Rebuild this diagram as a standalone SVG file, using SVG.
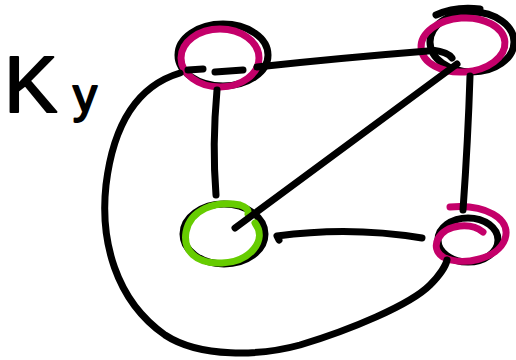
<svg xmlns="http://www.w3.org/2000/svg" width="516" height="360" viewBox="0 0 516 360">
<style>
.k{fill:none;stroke:#000;stroke-width:7;stroke-linecap:round;stroke-linejoin:round}
.m{fill:none;stroke:#c4006a;stroke-width:7;stroke-linecap:round}
.g{fill:none;stroke:#66cc00;stroke-width:7;stroke-linecap:round}
.lbl{font-family:"Liberation Sans",Arial,sans-serif;fill:#000;stroke:#000;stroke-width:2;stroke-linejoin:round}
</style>
<rect width="516" height="360" fill="#fff"/>
<text class="lbl" x="4" y="112" font-size="80">K<tspan x="73" font-size="48">y</tspan></text>
<g id="n1">
<ellipse class="k" cx="223" cy="55" rx="45" ry="31"/>
<ellipse class="m" cx="220" cy="58" rx="39" ry="29"/>
</g>
<g id="n2">
<ellipse class="k" cx="472" cy="42" rx="42" ry="30"/>
<path class="k" d="M436,15 Q455,6 480,9" stroke-width="5"/>
<ellipse class="m" cx="463" cy="45" rx="42" ry="27" transform="rotate(-4 463 45)"/>
</g>
<g id="n3">
<ellipse class="k" cx="224" cy="234" rx="41" ry="30"/>
<path class="g" d="M255,223 C268,240 250,262 222,263 C195,264 183,250 186,232 C190,210 215,200 240,205 C246,207 249,210 248,214"/>
</g>
<g id="n4">
<ellipse class="k" cx="468" cy="240" rx="30" ry="22"/>
<path class="m" d="M450,207 C484,204 512,218 505,239 C498,259 462,267 443,257 C429,248 438,228 460,226 C470,225 478,228 483,232"/>
</g>
<g id="edges">
<path class="k" d="M188,70 L203,69 M215,72 L243,70 M257,67 Q340,58 428,51 M432,50 Q448,52 452,58"/>
<path class="k" d="M217,90 Q212,145 216,195"/>
<path class="k" d="M235,228 L457,64"/>
<path class="k" d="M470,76 Q468,140 463,210"/>
<path class="k" d="M279,240 L277,236 Q350,226 422,238"/>
<path class="k" d="M180,73 C130,88 112,135 106,185 C100,240 115,300 165,335 C200,358 260,356 300,345 C350,330 410,305 430,285 C440,275 446,265 447,260"/>
</g>
</svg>
